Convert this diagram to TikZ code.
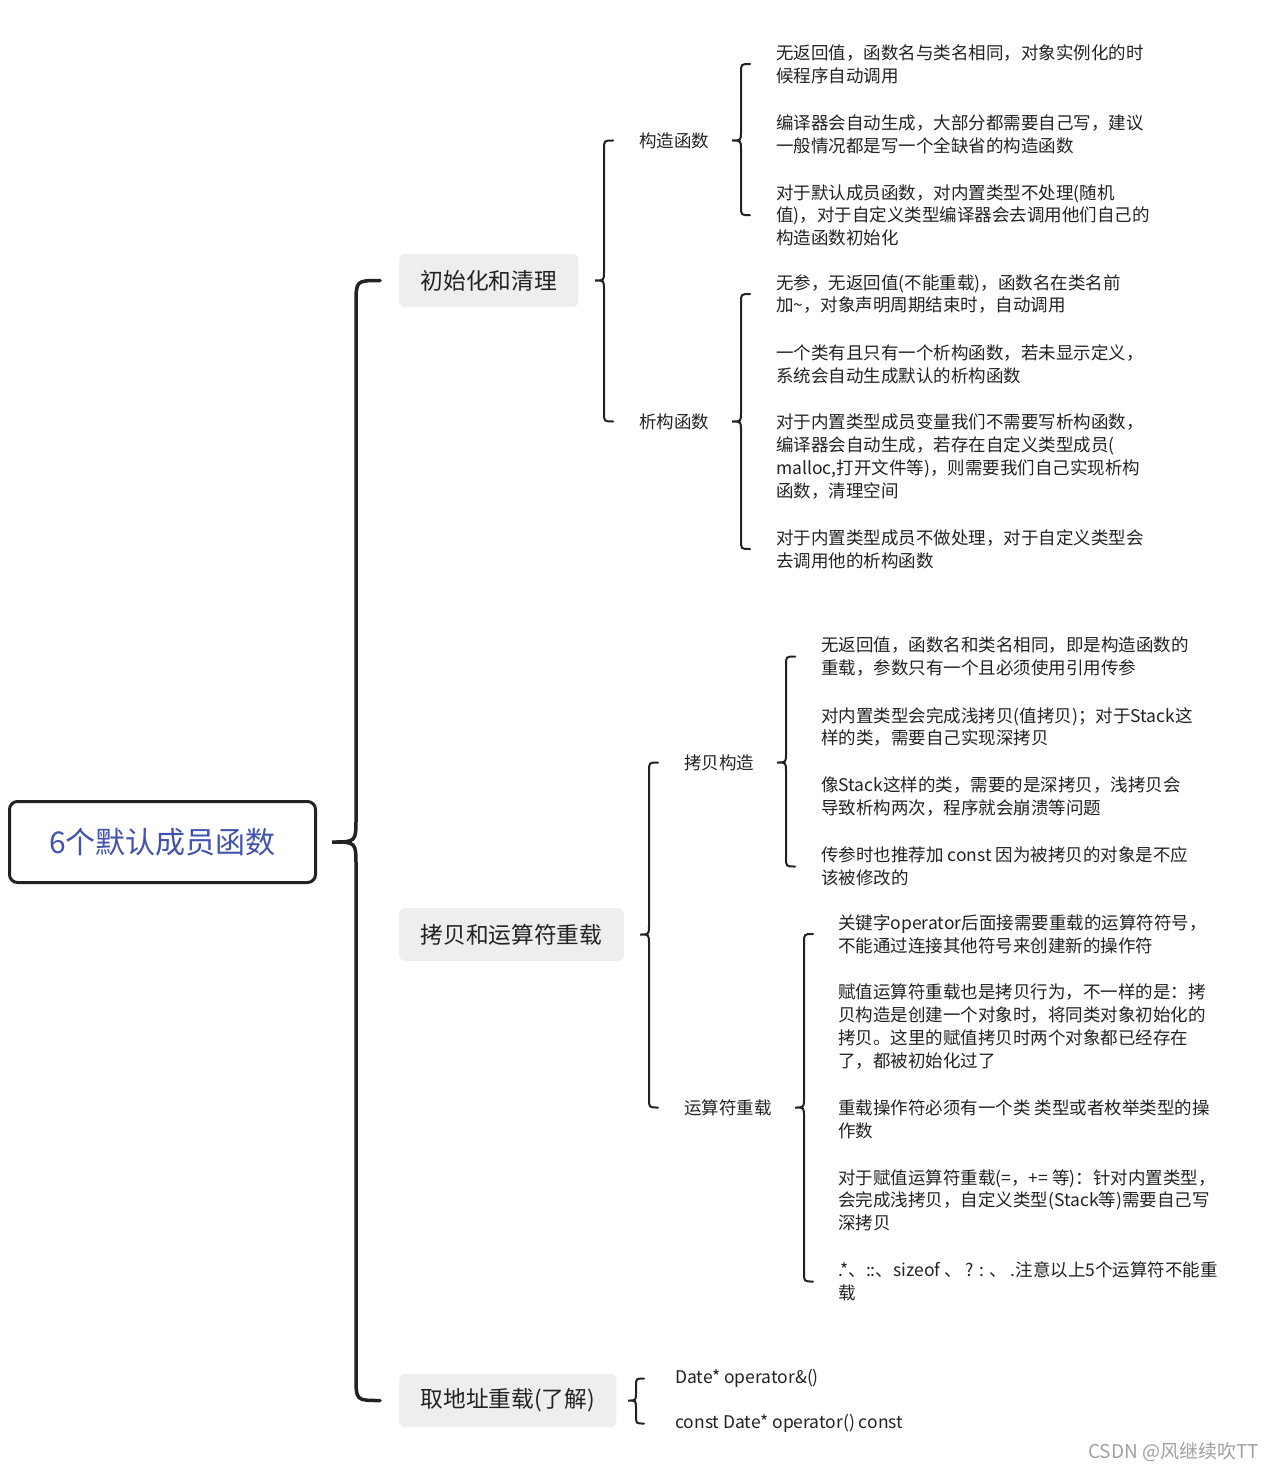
\documentclass[tikz,border=0pt]{standalone}
\usepackage{fontspec}
\setmainfont{Noto Sans CJK SC}
\usepackage{xcolor}
\usepackage{tikz}
\usetikzlibrary{calc}

\definecolor{rootblue}{HTML}{4151AE}
\definecolor{boxgray}{HTML}{EEEEEE}
\definecolor{inkgray}{HTML}{222222}
\definecolor{markgray}{HTML}{A0A0A0}

% 大括号：父节点，首个子节点，末个子节点，竖线x，弯曲半径
\newcommand\kuohao[6][brace]{%
	\draw[#1] let \p1=(#2.east), \p2=(#3.west), \p3=(#4.west) in
	(#5pt+#6pt,\y2) .. controls (#5pt,\y2) .. (#5pt,\y2-#6pt)
	-- (#5pt,\y1+#6pt) .. controls (#5pt,\y1) .. (#5pt-#6pt,\y1)
	.. controls (#5pt,\y1) .. (#5pt,\y1-#6pt)
	-- (#5pt,\y3+#6pt) .. controls (#5pt,\y3) .. (#5pt+#6pt,\y3);}

\begin{document}
\begin{tikzpicture}[x=1pt,y=-1pt,
			rootbox/.style={draw=inkgray,line width=3pt,rounded corners=8pt,minimum width=306pt,minimum height=81pt,text=rootblue,font=\fontsize{30}{36}\selectfont},
			topic/.style={fill=boxgray,rounded corners=6pt,minimum height=53pt,inner xsep=21.5pt,anchor=west,text=inkgray,font=\fontsize{22.7}{27}\selectfont},
			sub/.style={anchor=west,inner sep=0pt,text=inkgray,font=\fontsize{17.5}{22.7}\selectfont},
			leaf/.style={anchor=west,align=left,inner sep=0pt,text=inkgray,font=\fontsize{17.5}{22.7}\selectfont},
			brace/.style={draw=inkgray,line width=2pt,line cap=round},
			bigbrace/.style={draw=inkgray,line width=3.5pt,line cap=round},
			]
			\useasboundingbox (0,0) rectangle (1274,1471);
			
			% 根节点
			\node[rootbox] (root) at (162.5,842) {6个默认成员函数};
			
			% 一级分支
			\node[topic] (init) at (399,280.5) {初始化和清理};
			\node[topic] (copyop) at (399,934.5) {拷贝和运算符重载};
			\node[topic] (addr) at (399,1400.5) {取地址重载(了解)};
			
			% 二级分支
			\node[sub] (ctor) at (639,140.5) {构造函数};
			\node[sub] (dtor) at (639,421.5) {析构函数};
			\node[sub] (cp) at (684,762.5) {拷贝构造};
			\node[sub] (op) at (684,1107.5) {运算符重载};
			
			% 构造函数
			\node[leaf] (c1) at (776,64) {无返回值，函数名与类名相同，对象实例化的时\\候程序自动调用};
			\node[leaf] (c2) at (776,134) {编译器会自动生成，大部分都需要自己写，建议\\一般情况都是写一个全缺省的构造函数};
			\node[leaf] (c3) at (776,215.2) {对于默认成员函数，对内置类型不处理(随机\\值)，对于自定义类型编译器会去调用他们自己的\\构造函数初始化};
			
			% 析构函数
			\node[leaf] (d1) at (776,294) {无参，无返回值(不能重载)，函数名在类名前\\加\textasciitilde，对象声明周期结束时，自动调用};
			\node[leaf] (d2) at (776,364) {一个类有且只有一个析构函数，若未显示定义，\\系统会自动生成默认的析构函数};
			\node[leaf] (d3) at (776,456.5) {对于内置类型成员变量我们不需要写析构函数，\\编译器会自动生成，若存在自定义类型成员(\\malloc,打开文件等)，则需要我们自己实现析构\\函数，清理空间};
			\node[leaf] (d4) at (776,549) {对于内置类型成员不做处理，对于自定义类型会\\去调用他的析构函数};
			
			% 拷贝构造
			\node[leaf] (p1) at (821,656.5) {无返回值，函数名和类名相同，即是构造函数的\\重载，参数只有一个且必须使用引用传参};
			\node[leaf] (p2) at (821,727) {对内置类型会完成浅拷贝(值拷贝)；对于Stack这\\样的类，需要自己实现深拷贝};
			\node[leaf] (p3) at (821,796.5) {像Stack这样的类，需要的是深拷贝，浅拷贝会\\导致析构两次，程序就会崩溃等问题};
			\node[leaf] (p4) at (821,866.5) {传参时也推荐加 const 因为被拷贝的对象是不应\\该被修改的};
			
			% 运算符重载
			\node[leaf] (o1) at (838,934) {关键字operator后面接需要重载的运算符符号，\\不能通过连接其他符号来创建新的操作符};
			\node[leaf] (o2) at (838,1026.5) {赋值运算符重载也是拷贝行为，不一样的是：拷\\贝构造是创建一个对象时，将同类对象初始化的\\拷贝。这里的赋值拷贝时两个对象都已经存在\\了，都被初始化过了};
			\node[leaf] (o3) at (838,1119) {重载操作符必须有一个类 类型或者枚举类型的操\\作数};
			\node[leaf] (o4) at (838,1200.2) {对于赋值运算符重载(=，+= 等)：针对内置类型，\\会完成浅拷贝，自定义类型(Stack等)需要自己写\\深拷贝};
			\node[leaf] (o5) at (838,1281.5) {.*、::、sizeof 、 ? : 、 .注意以上5个运算符不能重\\载};
			
			% 取地址重载
			\node[leaf] (a1) at (675,1378.5) {Date* operator\&()};
			\node[leaf] (a2) at (675,1423.5) {const Date* operator() const};
			
			% 括号
			\kuohao[bigbrace]{root}{init}{addr}{356}{24}
			\kuohao{init}{ctor}{dtor}{604}{9}
			\kuohao{ctor}{c1}{c3}{741}{9}
			\kuohao{dtor}{d1}{d4}{741}{9}
			\kuohao{copyop}{cp}{op}{649}{9}
			\kuohao{cp}{p1}{p4}{786}{9}
			\kuohao{op}{o1}{o5}{804}{9}
			\kuohao{addr}{a1}{a2}{636}{8}
			
			\node[anchor=east,inner sep=0pt,text=markgray,font=\fontsize{19}{22}\selectfont] (mark) at (1259,1452) {CSDN @风继续吹TT};
		\end{tikzpicture}
\end{document}
